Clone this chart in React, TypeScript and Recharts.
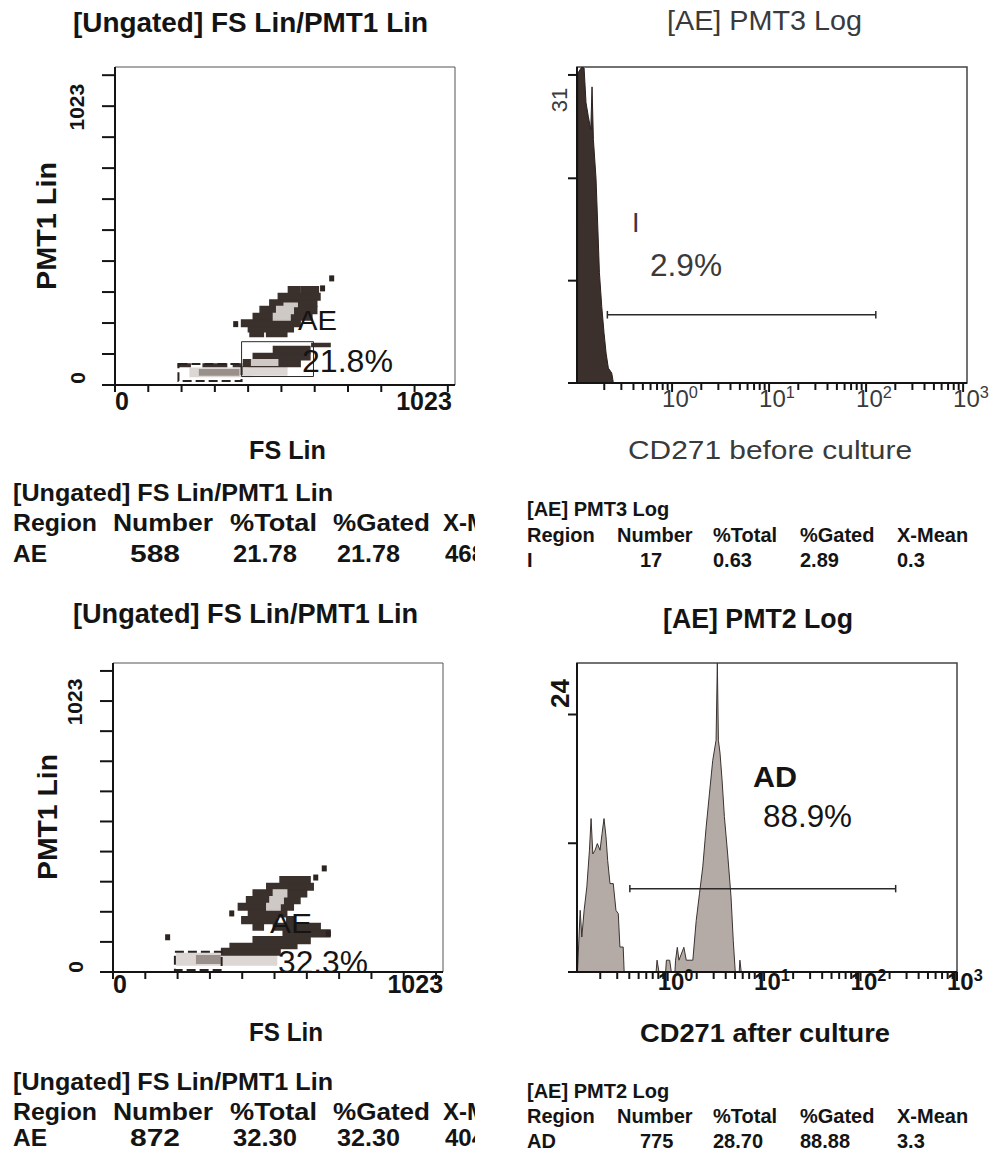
import React from "react";
import {
  ComposedChart,
  Scatter,
  Area,
  XAxis,
  YAxis,
  ReferenceArea,
  ReferenceLine,
} from "recharts";

const SANS = "'Liberation Sans', Arial, Helvetica, sans-serif";
const INK = "#141414";
const GREY_INK = "#3a3a3a";

// ---- FS Lin / PMT1 Lin density plots (channels) ----
const scatterTicks = [0, 102.3, 204.6, 306.9, 409.2, 511.5, 613.8, 716.1, 818.4, 920.7, 1023];

// density blocks: [fs from, fs to, pmt1 from, pmt1 to]
const fsBeforeDark = [
  [533, 569, 302, 324], [574, 625, 302, 324], [502, 630, 281, 302],
  [476, 620, 259, 281], [446, 620, 236, 259], [425, 605, 215, 236],
  [389, 569, 193, 215], [410, 548, 176, 193], [415, 456, 160, 176],
  [466, 528, 160, 176], [605, 661, 127, 137], [487, 599, 104, 127],
  [425, 599, 83, 104], [395, 569, 61, 83], [195, 231, 61, 69],
  [271, 343, 61, 69], [364, 389, 61, 69],
];
const fsBeforeLight = [[487, 538, 215, 236], [497, 548, 236, 259], [520, 560, 259, 270], [420, 500, 65, 83]];
const fsBeforePale = [[231, 420, 28, 55], [410, 528, 33, 61]];
const fsBeforeMid = [[260, 380, 33, 50]];
const fsBeforeDots = [{ fs: 666, pmt1: 352 }, { fs: 638, pmt1: 319 }, { fs: 371, pmt1: 201 }];
const fsBeforeGates = [[389, 610, 28, 143]];
const fsBeforeEdges = [[195, 389, 13, 69]];

const fsAfterDark = [
  [529, 624, 301, 324], [487, 634, 279, 301], [444, 613, 256, 279],
  [423, 592, 233, 256], [397, 571, 211, 233], [429, 550, 188, 211],
  [408, 518, 165, 188], [550, 571, 165, 188], [444, 476, 143, 165],
  [508, 656, 143, 165], [539, 687, 120, 143], [444, 624, 97, 120],
  [371, 582, 80, 97], [344, 529, 58, 80],
];
const fsAfterLight = [[508, 550, 256, 279], [497, 539, 233, 256], [487, 529, 211, 233]];
const fsAfterPale = [[202, 518, 24, 63]];
const fsAfterMid = [[265, 339, 30, 55]];
const fsAfterDots = [
  { fs: 669, pmt1: 352 }, { fs: 642, pmt1: 321 }, { fs: 376, pmt1: 199 },
  { fs: 173, pmt1: 118 }, { fs: 682, pmt1: 131 },
];
const fsAfterGates: number[][] = [];
const fsAfterEdges = [[196, 344, 7, 69]];

// ---- PMT log histograms: x = log10(intensity), y = count ----
const pmt3Before = [
  { logI: -0.976, count: 0 }, { logI: -0.97, count: 31.2 }, { logI: -0.931, count: 31.8 },
  { logI: -0.907, count: 31.7 }, { logI: -0.887, count: 28.2 }, { logI: -0.863, count: 26.8 },
  { logI: -0.838, count: 25.5 }, { logI: -0.825, count: 29.8 }, { logI: -0.811, count: 24.5 },
  { logI: -0.784, count: 20.6 }, { logI: -0.766, count: 15.8 }, { logI: -0.749, count: 11.1 },
  { logI: -0.725, count: 7.7 }, { logI: -0.701, count: 5.0 }, { logI: -0.68, count: 3.0 },
  { logI: -0.657, count: 1.5 }, { logI: -0.622, count: 1.0 }, { logI: -0.605, count: 0 },
];
const pmt3Gate = { from: -0.667, to: 2.1, level: 6.87 };

const pmt2After = [
  { logI: -0.935, count: 0 }, { logI: -0.907, count: 5.75 }, { logI: -0.89, count: 3.26 },
  { logI: -0.866, count: 5.75 }, { logI: -0.838, count: 7.93 }, { logI: -0.811, count: 11.35 },
  { logI: -0.794, count: 14.3 }, { logI: -0.776, count: 11.0 }, { logI: -0.753, count: 11.35 },
  { logI: -0.729, count: 11.97 }, { logI: -0.701, count: 11.35 }, { logI: -0.68, count: 12.9 },
  { logI: -0.66, count: 14.3 }, { logI: -0.639, count: 12.6 }, { logI: -0.622, count: 10.4 },
  { logI: -0.598, count: 8.24 }, { logI: -0.564, count: 8.24 }, { logI: -0.536, count: 5.75 },
  { logI: -0.512, count: 5.44 }, { logI: -0.495, count: 2.33 }, { logI: -0.461, count: 2.33 },
  { logI: -0.451, count: 0 }, { logI: -0.12, count: 0 }, { logI: -0.11, count: 1.1 },
  { logI: -0.09, count: 0 }, { logI: -0.021, count: 0 }, { logI: -0.013, count: 1.1 },
  { logI: 0.021, count: 1.1 }, { logI: 0.038, count: 0 }, { logI: 0.075, count: 0 },
  { logI: 0.082, count: 1.1 }, { logI: 0.1, count: 2.3 }, { logI: 0.117, count: 1.1 },
  { logI: 0.168, count: 2.3 }, { logI: 0.193, count: 1.1 }, { logI: 0.261, count: 1.1 },
  { logI: 0.296, count: 4.8 }, { logI: 0.33, count: 7.3 }, { logI: 0.364, count: 9.8 },
  { logI: 0.399, count: 13.5 }, { logI: 0.433, count: 16.6 }, { logI: 0.467, count: 19.7 },
  { logI: 0.502, count: 21.6 }, { logI: 0.515, count: 28.8 }, { logI: 0.526, count: 21.6 },
  { logI: 0.543, count: 20.4 }, { logI: 0.564, count: 17.9 }, { logI: 0.588, count: 14.5 },
  { logI: 0.622, count: 11.0 }, { logI: 0.657, count: 7.0 }, { logI: 0.68, count: 2.95 },
  { logI: 0.701, count: 0 }, { logI: 0.742, count: 0 }, { logI: 0.749, count: 1.1 },
  { logI: 0.763, count: 0 },
];
const pmt2Gate = { from: -0.392, to: 2.364, level: 7.77 };

const decades = [-1, 0, 1, 2, 3];
const minorSteps = [2, 3, 4, 5, 6, 7, 8, 9];

// ---- statistics tables ----
const statColumns = ["Region", "Number", "%Total", "%Gated", "X-Mean"];
const fsBeforeRow = ["AE", "588", "21.78", "21.78", "468"];
const pmt3BeforeRow = ["I", "17", "0.63", "2.89", "0.3"];
const fsAfterRow = ["AE", "872", "32.30", "32.30", "404"];
const pmt2AfterRow = ["AD", "775", "28.70", "88.88", "3.3"];

type Box = { left: number; right: number; top: number; bottom: number };

function logTicks(domain: [number, number]) {
  const all = decades.flatMap((d) => [d, ...minorSteps.map((k) => d + Math.log10(k))]);
  return all.filter((v) => v >= domain[0] && v <= domain[1] + 1e-9);
}

function DensityPanel(props: {
  left: number;
  top: number;
  width: number;
  height: number;
  plot: Box;
  dark: number[][];
  light: number[][];
  pale: number[][];
  mid: number[][];
  dots: { fs: number; pmt1: number }[];
  gates: number[][];
  edges: number[][];
  yLab: { dx: number; zeroDy: number; topDy: number };
  xLab: { dy: number; topDx: number };
}) {
  const { plot, width, height } = props;

  const yTick = (p: any) => {
    const { x, y, payload } = p;
    const v = payload.value;
    const show = v === 0 || v === 1023;
    const cx = x + props.yLab.dx;
    const cy = y + (v === 0 ? props.yLab.zeroDy : props.yLab.topDy);
    return (
      <g>
        <line x1={x - 13} x2={x} y1={y} y2={y} stroke={INK} strokeWidth={2} />
        {show && (
          <text
            x={cx}
            y={cy}
            transform={`rotate(-90 ${cx} ${cy})`}
            textAnchor="middle"
            dominantBaseline="central"
            fontFamily={SANS}
            fontWeight="bold"
            fontSize={21}
            fill={INK}
          >
            {v}
          </text>
        )}
      </g>
    );
  };

  const xTick = (p: any) => {
    const { x, y, payload } = p;
    const v = payload.value;
    return (
      <g>
        <line x1={x} x2={x} y1={y} y2={y + 7} stroke={INK} strokeWidth={2} />
        {v === 0 && (
          <text x={x} y={y + props.xLab.dy} fontFamily={SANS} fontWeight="bold" fontSize={25} fill={INK}>
            0
          </text>
        )}
        {v === 1023 && (
          <text
            x={x + props.xLab.topDx}
            y={y + props.xLab.dy}
            textAnchor="end"
            fontFamily={SANS}
            fontWeight="bold"
            fontSize={25}
            fill={INK}
          >
            1023
          </text>
        )}
      </g>
    );
  };

  // stroke in the fill colour hides the seams between neighbouring rows
  const block = (b: number[], i: number, fill: string) => (
    <ReferenceArea
      key={fill + i}
      x1={b[0]}
      x2={b[1]}
      y1={b[2]}
      y2={b[3]}
      fill={fill}
      fillOpacity={1}
      stroke={fill}
      strokeWidth={1.5}
    />
  );

  return (
    <div style={{ position: "absolute", left: props.left, top: props.top }}>
      <ComposedChart
        width={width}
        height={height}
        margin={{ top: plot.top, right: width - plot.right, left: 0, bottom: 0 }}
      >
        <XAxis
          type="number"
          dataKey="fs"
          domain={[0, 1045]}
          ticks={scatterTicks}
          interval={0}
          allowDataOverflow
          height={height - plot.bottom}
          tickLine={false}
          tickSize={0}
          tickMargin={0}
          tick={xTick}
          axisLine={{ stroke: INK, strokeWidth: 2 }}
        />
        <YAxis
          type="number"
          dataKey="pmt1"
          domain={[0, 1050]}
          ticks={scatterTicks}
          interval={0}
          allowDataOverflow
          width={plot.left}
          tickLine={false}
          tickSize={0}
          tickMargin={0}
          tick={yTick}
          axisLine={{ stroke: INK, strokeWidth: 2 }}
        />
        <ReferenceArea x1={0} x2={1045} y1={0} y2={1050} fill="none" stroke="#555" strokeWidth={1} />
        {props.pale.map((b, i) => block(b, i, "#dcd7d4"))}
        {props.mid.map((b, i) => block(b, i, "#9a908b"))}
        {props.dark.map((b, i) => block(b, i, "#3a302c"))}
        {props.light.map((b, i) => block(b, i, "#cfc9c5"))}
        {props.edges.map((b, i) => (
          <ReferenceArea
            key={"e" + i}
            x1={b[0]}
            x2={b[1]}
            y1={b[2]}
            y2={b[3]}
            fill="none"
            stroke="#2a2220"
            strokeWidth={2}
            strokeDasharray="9 4"
          />
        ))}
        {props.gates.map((b, i) => (
          <ReferenceArea key={"g" + i} x1={b[0]} x2={b[1]} y1={b[2]} y2={b[3]} fill="none" stroke="#2a2a2a" strokeWidth={1} />
        ))}
        <Scatter
          data={props.dots}
          isAnimationActive={false}
          shape={(p: any) => <rect x={p.cx - 2.5} y={p.cy - 3} width={5} height={6} fill="#2c2421" />}
        />
      </ComposedChart>
    </div>
  );
}

function HistogramPanel(props: {
  left: number;
  top: number;
  width: number;
  height: number;
  plot: Box;
  data: { logI: number; count: number }[];
  domain: [number, number];
  yMax: number;
  yTicks: number[];
  gate: { from: number; to: number; level: number };
  fill: string;
  stroke: string;
  yLab: { dx: number; dy: number; size: number; bold: boolean; fill: string };
  xLab: { dx: number; dy: number; size: number; bold: boolean; fill: string };
}) {
  const { plot, width, height, yLab, xLab, gate } = props;
  const top = props.yTicks[props.yTicks.length - 1];

  const yTick = (p: any) => {
    const { x, y, payload } = p;
    const cx = x + yLab.dx;
    const cy = y + yLab.dy;
    return (
      <g>
        <line x1={x - 9} x2={x} y1={y} y2={y} stroke={INK} strokeWidth={2} />
        {payload.value === top && (
          <text
            x={cx}
            y={cy}
            transform={`rotate(-90 ${cx} ${cy})`}
            textAnchor="middle"
            dominantBaseline="central"
            fontFamily={SANS}
            fontWeight={yLab.bold ? "bold" : "normal"}
            fontSize={yLab.size}
            fill={yLab.fill}
          >
            {payload.value}
          </text>
        )}
      </g>
    );
  };

  const xTick = (p: any) => {
    const { x, y, payload } = p;
    const v = Math.round(payload.value * 1e6) / 1e6;
    const major = Number.isInteger(v);
    return (
      <g>
        <line x1={x} x2={x} y1={y} y2={y + (major ? 9 : 7)} stroke={INK} strokeWidth={2} />
        {major && v >= 0 && (
          <text
            x={x + xLab.dx}
            y={y + xLab.dy}
            fontFamily={SANS}
            fontWeight={xLab.bold ? "bold" : "normal"}
            fontSize={xLab.size}
            fill={xLab.fill}
          >
            10
            <tspan fontSize={xLab.size * 0.68} dy={-9}>
              {v}
            </tspan>
          </text>
        )}
      </g>
    );
  };

  const cap = props.yMax * 0.012;

  return (
    <div style={{ position: "absolute", left: props.left, top: props.top }}>
      <ComposedChart
        width={width}
        height={height}
        data={props.data}
        margin={{ top: plot.top, right: width - plot.right, left: 0, bottom: 0 }}
      >
        <XAxis
          type="number"
          dataKey="logI"
          domain={props.domain}
          ticks={logTicks(props.domain)}
          interval={0}
          allowDataOverflow
          height={height - plot.bottom}
          tickLine={false}
          tickSize={0}
          tickMargin={0}
          tick={xTick}
          axisLine={{ stroke: INK, strokeWidth: 2 }}
        />
        <YAxis
          type="number"
          domain={[0, props.yMax]}
          ticks={props.yTicks}
          interval={0}
          allowDataOverflow
          width={plot.left}
          tickLine={false}
          tickSize={0}
          tickMargin={0}
          tick={yTick}
          axisLine={{ stroke: INK, strokeWidth: 2 }}
        />
        <ReferenceArea
          x1={props.domain[0]}
          x2={props.domain[1]}
          y1={0}
          y2={props.yMax}
          fill="none"
          stroke="#444"
          strokeWidth={1.5}
        />
        <Area
          type="linear"
          dataKey="count"
          stroke={props.stroke}
          strokeWidth={1}
          fill={props.fill}
          fillOpacity={1}
          dot={false}
          activeDot={false}
          isAnimationActive={false}
        />
        <ReferenceLine
          segment={[{ x: gate.from, y: gate.level }, { x: gate.to, y: gate.level }]}
          stroke="#2a2a2a"
          strokeWidth={1.5}
        />
        <ReferenceLine
          segment={[{ x: gate.from, y: gate.level - cap }, { x: gate.from, y: gate.level + cap }]}
          stroke="#2a2a2a"
          strokeWidth={1.5}
        />
        <ReferenceLine
          segment={[{ x: gate.to, y: gate.level - cap }, { x: gate.to, y: gate.level + cap }]}
          stroke="#2a2a2a"
          strokeWidth={1.5}
        />
      </ComposedChart>
    </div>
  );
}

function Txt(props: {
  x: number;
  y: number;
  size: number;
  bold?: boolean;
  fill?: string;
  len?: number;
  rotate?: boolean;
  children: React.ReactNode;
}) {
  const { x, y, size, bold, fill = INK, len, rotate } = props;
  return (
    <text
      x={x}
      y={y}
      fontSize={size}
      fontWeight={bold ? "bold" : "normal"}
      fill={fill}
      fontFamily={SANS}
      textLength={len}
      lengthAdjust={len ? "spacingAndGlyphs" : undefined}
      textAnchor={rotate ? "middle" : "start"}
      dominantBaseline={rotate ? "central" : undefined}
      transform={rotate ? `rotate(-90 ${x} ${y})` : undefined}
    >
      {props.children}
    </text>
  );
}

function StatsTable(props: {
  title: string;
  row: string[];
  baselines: number[];
  size: number;
  titleLen?: number;
  headX: number[];
  valX: number[];
  headLens?: (number | undefined)[];
  valLens?: (number | undefined)[];
  clip?: string;
}) {
  const [b1, b2, b3] = props.baselines;
  return (
    <g clipPath={props.clip ? `url(#${props.clip})` : undefined}>
      <Txt x={props.headX[0]} y={b1} size={props.size} bold len={props.titleLen}>
        {props.title}
      </Txt>
      {statColumns.map((c, i) => (
        <Txt key={c} x={props.headX[i]} y={b2} size={props.size} bold len={props.headLens?.[i]}>
          {c}
        </Txt>
      ))}
      {props.row.map((c, i) => (
        <Txt key={i} x={props.valX[i]} y={b3} size={props.size} bold len={props.valLens?.[i]}>
          {c}
        </Txt>
      ))}
    </g>
  );
}

export default function App() {
  const leftHead = [13, 113, 230, 333, 443];
  const leftVal = [13, 130, 233, 337, 445];
  const leftHeadLens = [84, 100, 87, 97, undefined];
  const leftValLens = [34, 50, 64, 63, undefined];
  const rightHead = [527, 617, 713, 800, 897];
  const rightVal = [527, 640, 713, 800, 897];

  return (
    <div style={{ position: "absolute", left: 0, top: 0, width: 1003, height: 1153, background: "#fff" }}>
      <DensityPanel
        left={0}
        top={0}
        width={480}
        height={470}
        plot={{ left: 115, right: 455, top: 67, bottom: 385 }}
        dark={fsBeforeDark}
        light={fsBeforeLight}
        pale={fsBeforePale}
        mid={fsBeforeMid}
        dots={fsBeforeDots}
        gates={fsBeforeGates}
        edges={fsBeforeEdges}
        yLab={{ dx: -38, zeroDy: -7, topDy: 32 }}
        xLab={{ dy: 25, topDx: 4 }}
      />
      <HistogramPanel
        left={490}
        top={0}
        width={513}
        height={470}
        plot={{ left: 87, right: 477, top: 67, bottom: 383 }}
        data={pmt3Before}
        domain={[-0.98, 3.04]}
        yMax={31.8}
        yTicks={[0, 10.3, 20.6, 31]}
        gate={pmt3Gate}
        fill="#3b302b"
        stroke="#2a211e"
        yLab={{ dx: -17, dy: 25, size: 22, bold: false, fill: GREY_INK }}
        xLab={{ dx: -10, dy: 24, size: 24, bold: false, fill: GREY_INK }}
      />
      <DensityPanel
        left={0}
        top={590}
        width={470}
        height={470}
        plot={{ left: 113, right: 443, top: 73, bottom: 382 }}
        dark={fsAfterDark}
        light={fsAfterLight}
        pale={fsAfterPale}
        mid={fsAfterMid}
        dots={fsAfterDots}
        gates={fsAfterGates}
        edges={fsAfterEdges}
        yLab={{ dx: -38, zeroDy: -5, topDy: 31 }}
        xLab={{ dy: 21, topDx: 7 }}
      />
      <HistogramPanel
        left={490}
        top={590}
        width={513}
        height={470}
        plot={{ left: 87, right: 467, top: 73, bottom: 382 }}
        data={pmt2After}
        domain={[-0.94, 3.0]}
        yMax={28.8}
        yTicks={[0, 12, 24]}
        gate={pmt2Gate}
        fill="#b4aaa6"
        stroke="#3a3330"
        yLab={{ dx: -17, dy: -21, size: 26, bold: true, fill: INK }}
        xLab={{ dx: -10, dy: 18, size: 24, bold: true, fill: INK }}
      />

      <svg
        width={1003}
        height={1153}
        style={{ position: "absolute", left: 0, top: 0, pointerEvents: "none" }}
      >
        <defs>
          <clipPath id="leftClip">
            <rect x={0} y={0} width={475} height={1153} />
          </clipPath>
        </defs>

        {/* panel titles */}
        <Txt x={73} y={32} size={28} bold len={355}>[Ungated] FS Lin/PMT1 Lin</Txt>
        <Txt x={667} y={30} size={28} fill={GREY_INK} len={195}>[AE] PMT3 Log</Txt>
        <Txt x={73} y={623} size={27} bold len={345}>[Ungated] FS Lin/PMT1 Lin</Txt>
        <Txt x={663} y={628} size={27} bold len={190}>[AE] PMT2 Log</Txt>

        {/* axis titles */}
        <Txt x={46} y={226} size={28} bold len={128} rotate>PMT1 Lin</Txt>
        <Txt x={47} y={817} size={28} bold len={126} rotate>PMT1 Lin</Txt>
        <Txt x={249} y={459} size={25} bold len={77}>FS Lin</Txt>
        <Txt x={628} y={459} size={26} fill={GREY_INK} len={284}>CD271 before culture</Txt>
        <Txt x={249} y={1041} size={25} bold len={74}>FS Lin</Txt>
        <Txt x={640} y={1042} size={26} bold len={250}>CD271 after culture</Txt>

        {/* region annotations */}
        <Txt x={298} y={330} size={27} len={39}>AE</Txt>
        <Txt x={302} y={372} size={31} len={91}>21.8%</Txt>
        <Txt x={270} y={933} size={27} len={42}>AE</Txt>
        <Txt x={278} y={973} size={31} len={90}>32.3%</Txt>
        <Txt x={632} y={232} size={27} fill={GREY_INK}>I</Txt>
        <Txt x={650} y={276} size={32} fill={GREY_INK} len={72}>2.9%</Txt>
        <Txt x={753} y={787} size={30} bold len={44}>AD</Txt>
        <Txt x={763} y={827} size={31} len={89}>88.9%</Txt>

        {/* statistics */}
        <StatsTable
          title="[Ungated] FS Lin/PMT1 Lin"
          row={fsBeforeRow}
          baselines={[501, 531, 562]}
          size={24}
          titleLen={320}
          headX={leftHead}
          valX={leftVal}
          headLens={leftHeadLens}
          valLens={leftValLens}
          clip="leftClip"
        />
        <StatsTable
          title="[AE] PMT3 Log"
          row={pmt3BeforeRow}
          baselines={[516, 542, 567]}
          size={20}
          headX={rightHead}
          valX={rightVal}
        />
        <StatsTable
          title="[Ungated] FS Lin/PMT1 Lin"
          row={fsAfterRow}
          baselines={[1090, 1120, 1146]}
          size={24}
          titleLen={320}
          headX={leftHead}
          valX={leftVal}
          headLens={leftHeadLens}
          valLens={leftValLens}
          clip="leftClip"
        />
        <StatsTable
          title="[AE] PMT2 Log"
          row={pmt2AfterRow}
          baselines={[1098, 1123, 1148]}
          size={20}
          headX={rightHead}
          valX={rightVal}
        />
      </svg>
    </div>
  );
}
